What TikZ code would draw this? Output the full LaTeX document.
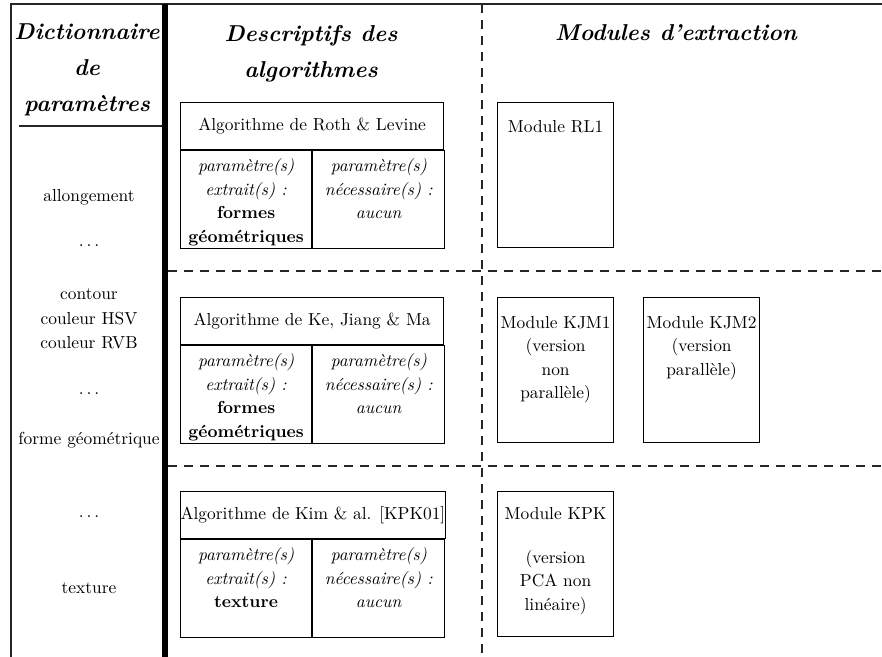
\documentclass[tikz,border=0pt]{standalone}
\usepackage{fontspec}
\def\pxu{0.5747pt}
\tikzset{
  frame/.style={draw=black!85, line width=0.8pt},
  heavy/.style={draw=black, line width=6*\pxu},
  dashsep/.style={draw=black!85, line width=0.8pt, dash pattern=on 5.2pt off 4pt},
  box/.style={draw=black, line width=0.7pt, rectangle, inner sep=0pt},
  head/.style={font=\fontsize{13.2}{20.7}\selectfont\bfseries\itshape, align=center, inner sep=0pt},
  txt/.style={font=\fontsize{10}{13.5}\selectfont, align=center, inner sep=0pt},
}
\begin{document}
\begin{tikzpicture}[x=0.5747pt, y=-0.5747pt]
\useasboundingbox (0,0) rectangle (882,657);

% frame and column separators
\coordinate (tl) at (11,4);
\coordinate (bl) at (11,657);
\coordinate (tr) at (882,4);
\draw[frame] (bl) -- (tl) -- (tr);
\coordinate (thickTop) at (165,4);
\coordinate (thickBot) at (165,657);
\draw[heavy] (thickTop) -- (thickBot);
\coordinate (ulA) at (19,126);
\coordinate (ulB) at (162,126);
\draw[frame] (ulA) -- (ulB);
\coordinate (dvTop) at (482,4);
\coordinate (dvBot) at (482,657);
\draw[dashsep] (dvTop) -- (dvBot);
\coordinate (dh1a) at (168,271);
\coordinate (dh1b) at (882,271);
\coordinate (dh2a) at (168,466);
\coordinate (dh2b) at (882,466);
\draw[dashsep] (dh1a) -- (dh1b);
\draw[dashsep] (dh2a) -- (dh2b);

% headers (base anchor = baseline of last line)
\node[head, anchor=base] (h1) at (87,112) {Dictionnaire\\de\\paramètres};
\node[head, anchor=base] (h2) at (311,78) {Descriptifs des\\algorithmes};
\node[head, anchor=base] (h3) at (676,41) {Modules d'extraction};

% parameter dictionary
\node[txt, anchor=base] (p1) at (89,202) {allongement};
\node[txt, anchor=base] (p2) at (89,247) {$\ldots$};
\node[txt, anchor=base] (p3) at (89,300) {contour};
\node[txt, anchor=base] (p4) at (89,325) {couleur HSV};
\node[txt, anchor=base] (p5) at (89,349) {couleur RVB};
\node[txt, anchor=base] (p6) at (89,395) {$\ldots$};
\node[txt, anchor=base] (p7) at (89,445) {forme géométrique};
\node[txt, anchor=base] (p8) at (89,517) {$\ldots$};
\node[txt, anchor=base] (p9) at (89,593) {texture};

% algorithm 1
\node[box, txt, minimum width=263*\pxu, minimum height=47*\pxu, anchor=north west] (rlT) at (180,102) {Algorithme de Roth \& Levine};
\node[box, minimum width=131*\pxu, minimum height=98*\pxu, anchor=north west] (rlA) at (rlT.south west) {};
\node[box, minimum width=132*\pxu, minimum height=98*\pxu, anchor=north west] (rlB) at (rlA.north east) {};
\node[txt, anchor=north] (rlAt) at ([yshift=-8*\pxu]rlA.north) {\textit{paramètre(s)}\\\textit{extrait(s) :}\\\textbf{formes}\\\textbf{géométriques}};
\node[txt, anchor=north] (rlBt) at ([yshift=-8*\pxu]rlB.north) {\textit{paramètre(s)}\\\textit{nécessaire(s) :}\\\textit{aucun}};

% algorithm 2
\node[box, txt, minimum width=263*\pxu, minimum height=47*\pxu, anchor=north west] (kjT) at (180,297) {Algorithme de Ke, Jiang \& Ma};
\node[box, minimum width=131*\pxu, minimum height=98*\pxu, anchor=north west] (kjA) at (kjT.south west) {};
\node[box, minimum width=132*\pxu, minimum height=98*\pxu, anchor=north west] (kjB) at (kjA.north east) {};
\node[txt, anchor=north] (kjAt) at ([yshift=-8*\pxu]kjA.north) {\textit{paramètre(s)}\\\textit{extrait(s) :}\\\textbf{formes}\\\textbf{géométriques}};
\node[txt, anchor=north] (kjBt) at ([yshift=-8*\pxu]kjB.north) {\textit{paramètre(s)}\\\textit{nécessaire(s) :}\\\textit{aucun}};

% algorithm 3
\node[box, txt, minimum width=263*\pxu, minimum height=47*\pxu, anchor=north west] (kpT) at (180,491) {Algorithme de Kim \& al. [KPK01]};
\node[box, minimum width=131*\pxu, minimum height=98*\pxu, anchor=north west] (kpA) at (kpT.south west) {};
\node[box, minimum width=132*\pxu, minimum height=98*\pxu, anchor=north west] (kpB) at (kpA.north east) {};
\node[txt, anchor=north] (kpAt) at ([yshift=-8*\pxu]kpA.north) {\textit{paramètre(s)}\\\textit{extrait(s) :}\\\textbf{texture}};
\node[txt, anchor=north] (kpBt) at ([yshift=-8*\pxu]kpB.north) {\textit{paramètre(s)}\\\textit{nécessaire(s) :}\\\textit{aucun}};

% modules
\node[box, minimum width=116*\pxu, minimum height=145*\pxu, anchor=north west] (m1) at (497,102) {};
\node[txt, anchor=north] (m1t) at ([yshift=-18*\pxu]m1.north) {Module RL1};
\node[box, minimum width=116*\pxu, minimum height=145*\pxu, anchor=north west] (m2) at (497,297) {};
\node[txt, anchor=north] (m2t) at ([yshift=-19*\pxu]m2.north) {Module KJM1\\(version\\non\\parallèle)};
\node[box, minimum width=116*\pxu, minimum height=145*\pxu, anchor=north west] (m3) at (643,297) {};
\node[txt, anchor=north] (m3t) at ([yshift=-19*\pxu]m3.north) {Module KJM2\\(version\\parallèle)};
\node[box, minimum width=116*\pxu, minimum height=145*\pxu, anchor=north west] (m4) at (497,491) {};
\node[txt, anchor=north] (m4t) at ([yshift=-16*\pxu]m4.north) {Module KPK\\[11.8pt](version\\PCA non\\linéaire)};
\end{tikzpicture}
\end{document}
